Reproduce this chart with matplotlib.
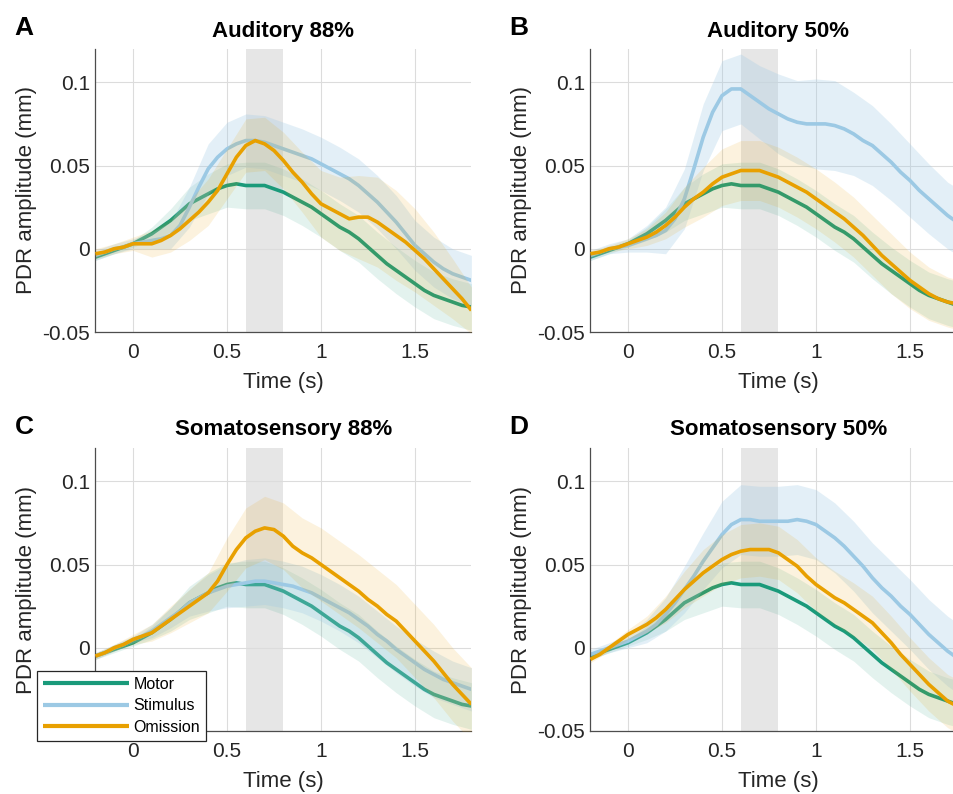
import numpy as np
import matplotlib.pyplot as plt

plt.rcParams['font.family'] = ['Liberation Sans', 'DejaVu Sans']
plt.rcParams['axes.unicode_minus'] = False

# time axes (s)
t = np.round(np.arange(-0.2, 1.8001, 0.05), 3)
t_band = np.round(np.arange(-0.2, 1.8001, 0.1), 3)

# motor condition (same in every panel)
motor = [-0.005, -0.003, -0.001, 0.001, 0.003, 0.006, 0.009, 0.013, 0.017, 0.022,
         0.027, 0.030, 0.033, 0.036, 0.038, 0.039, 0.038, 0.038, 0.038, 0.036,
         0.034, 0.031, 0.028, 0.025, 0.021, 0.017, 0.013, 0.010, 0.006, 0.001,
         -0.004, -0.009, -0.013, -0.017, -0.021, -0.025, -0.028, -0.030, -0.032, -0.034,
         -0.035]
motor_hw = [0.002, 0.002, 0.002, 0.004, 0.007, 0.010, 0.012, 0.013, 0.014, 0.014, 0.014,
            0.014, 0.014, 0.014, 0.014, 0.014, 0.014, 0.014, 0.014, 0.014, 0.014]

# A: auditory 88%
stim_a = [-0.004, -0.002, 0.000, 0.001, 0.003, 0.004, 0.005, 0.006, 0.008, 0.014,
          0.025, 0.037, 0.048, 0.055, 0.060, 0.063, 0.065, 0.065, 0.064, 0.062,
          0.060, 0.058, 0.056, 0.054, 0.051, 0.048, 0.045, 0.042, 0.038, 0.033,
          0.028, 0.022, 0.016, 0.009, 0.002, -0.003, -0.008, -0.012, -0.015, -0.017,
          -0.019]
stim_a_hw = [0.003, 0.003, 0.003, 0.005, 0.008, 0.012, 0.015, 0.016, 0.016, 0.016, 0.016,
             0.016, 0.016, 0.016, 0.016, 0.016, 0.016, 0.015, 0.015, 0.015, 0.015]
omis_a = [-0.003, -0.002, 0.000, 0.001, 0.003, 0.003, 0.003, 0.005, 0.008, 0.012,
          0.017, 0.022, 0.028, 0.035, 0.045, 0.055, 0.062, 0.065, 0.063, 0.059,
          0.053, 0.046, 0.040, 0.033, 0.027, 0.024, 0.021, 0.018, 0.019, 0.019,
          0.016, 0.012, 0.008, 0.004, -0.001, -0.006, -0.012, -0.018, -0.024, -0.030,
          -0.037]
omis_a_hw = [0.003, 0.003, 0.004, 0.008, 0.010, 0.012, 0.014, 0.015, 0.016, 0.016, 0.017,
             0.018, 0.020, 0.022, 0.025, 0.027, 0.027, 0.025, 0.022, 0.018, 0.014]

# B: auditory 50%
stim_b = [-0.004, -0.002, 0.000, 0.001, 0.002, 0.004, 0.006, 0.008, 0.011, 0.018,
          0.030, 0.048, 0.067, 0.082, 0.092, 0.096, 0.096, 0.092, 0.088, 0.084,
          0.081, 0.078, 0.076, 0.075, 0.075, 0.075, 0.074, 0.072, 0.069, 0.065,
          0.062, 0.057, 0.052, 0.046, 0.041, 0.035, 0.030, 0.025, 0.020, 0.016,
          0.013]
stim_b_hw = [0.003, 0.003, 0.004, 0.008, 0.014, 0.018, 0.020, 0.021, 0.021, 0.022, 0.024,
             0.025, 0.027, 0.027, 0.025, 0.024, 0.023, 0.022, 0.021, 0.020, 0.020]
omis_b = [-0.003, -0.002, 0.000, 0.001, 0.003, 0.005, 0.007, 0.010, 0.014, 0.019,
          0.025, 0.030, 0.034, 0.039, 0.043, 0.045, 0.047, 0.047, 0.047, 0.045,
          0.043, 0.040, 0.037, 0.034, 0.030, 0.026, 0.022, 0.018, 0.013, 0.008,
          0.002, -0.004, -0.009, -0.014, -0.019, -0.023, -0.027, -0.030, -0.032, -0.033,
          -0.035]
omis_b_hw = [0.002, 0.002, 0.003, 0.005, 0.008, 0.012, 0.015, 0.017, 0.018, 0.018, 0.018,
             0.018, 0.018, 0.018, 0.018, 0.018, 0.018, 0.017, 0.016, 0.015, 0.015]

# C: somatosensory 88%
stim_c = [-0.005, -0.003, 0.000, 0.002, 0.005, 0.007, 0.010, 0.014, 0.018, 0.022,
          0.027, 0.030, 0.033, 0.035, 0.037, 0.038, 0.039, 0.040, 0.040, 0.039,
          0.038, 0.037, 0.035, 0.033, 0.030, 0.027, 0.024, 0.021, 0.017, 0.013,
          0.008, 0.004, -0.001, -0.005, -0.009, -0.013, -0.016, -0.019, -0.021, -0.023,
          -0.025]
stim_c_hw = [0.002, 0.002, 0.002, 0.004, 0.006, 0.008, 0.011, 0.013, 0.014, 0.014, 0.014,
             0.014, 0.014, 0.014, 0.014, 0.014, 0.014, 0.014, 0.014, 0.013, 0.013]
omis_c = [-0.005, -0.003, 0.000, 0.002, 0.005, 0.007, 0.009, 0.013, 0.017, 0.021,
          0.025, 0.029, 0.033, 0.040, 0.050, 0.059, 0.066, 0.070, 0.072, 0.071,
          0.067, 0.061, 0.057, 0.054, 0.050, 0.046, 0.042, 0.038, 0.034, 0.029,
          0.025, 0.020, 0.016, 0.010, 0.004, -0.002, -0.008, -0.015, -0.022, -0.028,
          -0.034]
omis_c_hw = [0.002, 0.002, 0.003, 0.005, 0.008, 0.010, 0.012, 0.016, 0.018, 0.019, 0.020,
             0.021, 0.022, 0.022, 0.022, 0.022, 0.022, 0.022, 0.022, 0.022, 0.022]

# D: somatosensory 50%
stim_d = [-0.004, -0.002, 0.000, 0.002, 0.004, 0.007, 0.010, 0.014, 0.020, 0.027,
          0.035, 0.043, 0.052, 0.060, 0.068, 0.074, 0.077, 0.077, 0.076, 0.076,
          0.076, 0.076, 0.077, 0.076, 0.074, 0.070, 0.066, 0.061, 0.055, 0.049,
          0.042, 0.036, 0.031, 0.025, 0.020, 0.014, 0.008, 0.003, -0.002, -0.006,
          -0.010]
stim_d_hw = [0.003, 0.003, 0.004, 0.007, 0.010, 0.014, 0.017, 0.020, 0.021, 0.021, 0.021,
             0.021, 0.021, 0.021, 0.021, 0.021, 0.021, 0.021, 0.021, 0.021, 0.021]
omis_d = [-0.007, -0.004, 0.000, 0.004, 0.008, 0.011, 0.014, 0.018, 0.023, 0.029,
          0.035, 0.040, 0.045, 0.049, 0.053, 0.056, 0.058, 0.059, 0.059, 0.059,
          0.057, 0.053, 0.049, 0.043, 0.038, 0.034, 0.030, 0.027, 0.023, 0.019,
          0.015, 0.009, 0.003, -0.004, -0.010, -0.016, -0.022, -0.027, -0.032, -0.035,
          -0.038]
omis_d_hw = [0.002, 0.002, 0.003, 0.005, 0.008, 0.011, 0.014, 0.015, 0.016, 0.016, 0.016,
             0.016, 0.016, 0.016, 0.016, 0.016, 0.016, 0.016, 0.016, 0.016, 0.016]

titles = ['Auditory 88%', 'Auditory 50%', 'Somatosensory 88%', 'Somatosensory 50%']
letters = ['A', 'B', 'C', 'D']
stims = [(stim_a, stim_a_hw), (stim_b, stim_b_hw), (stim_c, stim_c_hw), (stim_d, stim_d_hw)]
omiss = [(omis_a, omis_a_hw), (omis_b, omis_b_hw), (omis_c, omis_c_hw), (omis_d, omis_d_hw)]
names = ['Motor', 'Stimulus', 'Omission']
colors = ['#1a9a7a', '#9cc9e4', '#e8a000']
band_alpha = [0.12, 0.28, 0.13]

W, H = 954, 794
fig = plt.figure(figsize=(W / 100, H / 100), dpi=100)
# axes boxes in pixels: left, top
boxes = [(95.4, 49), (590.4, 49), (95.4, 448), (590.4, 448)]
aw, ah = 376, 283


def plot_cond(ax, mean, hw, col, alpha, label, z):
    mean = np.array(mean)
    hw = np.array(hw)
    mb = mean[::2]
    ax.fill_between(t_band, mb - hw, mb + hw, color=col, alpha=alpha, lw=0, zorder=z)
    return ax.plot(t, mean, color=col, lw=2.6, label=label, zorder=z + 0.5,
                   solid_capstyle='butt')[0]


handles = None
for i in range(4):
    x0, y0 = boxes[i]
    ax = fig.add_axes([x0 / W, 1 - (y0 + ah) / H, aw / W, ah / H])
    ax.axvspan(0.6, 0.8, color='#e6e6e6', lw=0, zorder=0.5)
    data = [(motor, motor_hw), stims[i], omiss[i]]
    hs = []
    for k in range(3):
        hs.append(plot_cond(ax, data[k][0], data[k][1], colors[k], band_alpha[k],
                            names[k], 1 + k))
    if i == 2:
        handles = hs
    ax.set_xlim(-0.2, 1.8)
    ax.set_ylim(-0.05, 0.12)
    ax.set_xticks([0, 0.5, 1, 1.5])
    ax.set_xticklabels(['0', '0.5', '1', '1.5'])
    ax.set_yticks([-0.05, 0, 0.05, 0.1])
    ax.set_yticklabels(['-0.05', '0', '0.05', '0.1'])
    ax.grid(True, color='#dcdcdc', lw=0.8, zorder=0)
    ax.set_axisbelow(True)
    for s in ['top', 'right']:
        ax.spines[s].set_visible(False)
    for s in ['left', 'bottom']:
        ax.spines[s].set_color('#4d4d4d')
        ax.spines[s].set_linewidth(0.9)
    ax.tick_params(direction='in', length=0, labelsize=15, colors='#262626')
    ax.tick_params(axis='x', pad=8)
    ax.tick_params(axis='y', pad=4)
    ax.set_xlabel('Time (s)', fontsize=16, color='#262626', labelpad=7)
    ax.set_ylabel('PDR amplitude (mm)', fontsize=16, color='#262626', labelpad=4)
    ax.set_title(titles[i], fontsize=16, fontweight='bold', pad=9)
    fig.text((x0 - 81) / W, 1 - (y0 - 21) / H, letters[i], fontsize=19,
             fontweight='bold', ha='left', va='center')

leg = fig.legend(handles=handles, loc='upper left',
                 bbox_to_anchor=(37 / W, 1 - 671 / H), fontsize=11.5,
                 handlelength=5.4, frameon=True, fancybox=False,
                 borderpad=0.35, labelspacing=0.42, handletextpad=0.3,
                 borderaxespad=0)
leg.get_frame().set_edgecolor('#262626')
leg.get_frame().set_linewidth(0.9)
leg.get_frame().set_alpha(1)
for ln in leg.get_lines():
    ln.set_linewidth(3)
leg.set_zorder(10)

fig.savefig('out.png', dpi=100)
